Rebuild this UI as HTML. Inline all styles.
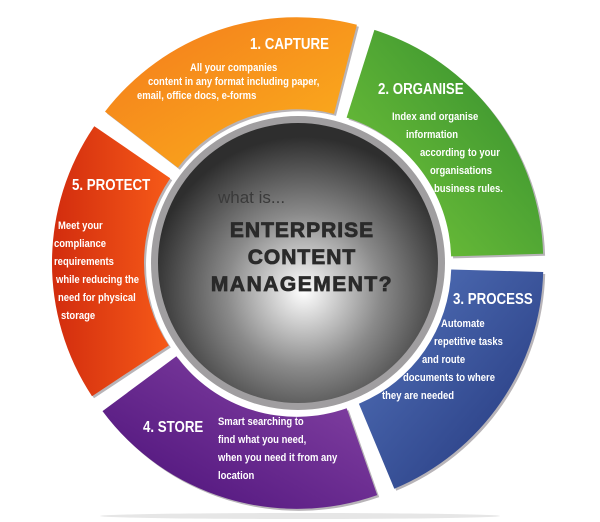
<!DOCTYPE html>
<html><head><meta charset="utf-8"><style>
html,body{margin:0;padding:0;background:#fff;}
#w{position:relative;width:600px;height:522px;overflow:hidden;font-family:"Liberation Sans",sans-serif;}
.t{position:absolute;color:#fff;font-weight:bold;white-space:nowrap;font-size:11px;line-height:18px;transform:scaleX(0.86);transform-origin:0 0;}
.h{position:absolute;color:#fff;font-weight:bold;white-space:nowrap;font-size:16px;transform:scaleX(0.83);transform-origin:0 0;}
.c{position:absolute;color:#2a2a2a;font-family:"Liberation Sans",sans-serif;font-weight:900;font-size:21px;letter-spacing:1px;text-align:center;width:300px;left:152px;-webkit-text-stroke:0.8px #2a2a2a;}
</style></head><body><div id="w">
<svg width="600" height="522" style="position:absolute;left:0;top:0">
<defs>
<linearGradient id="g1" x1="0" y1="0" x2="1" y2="1"><stop offset="0" stop-color="#f47a1c"/><stop offset="1" stop-color="#fbb21c"/></linearGradient>
<linearGradient id="g2" x1="1" y1="0" x2="0" y2="1"><stop offset="0" stop-color="#2f8a2e"/><stop offset="1" stop-color="#78c83a"/></linearGradient>
<linearGradient id="g3" x1="0" y1="0" x2="1" y2="1"><stop offset="0" stop-color="#5575bd"/><stop offset="1" stop-color="#22357a"/></linearGradient>
<linearGradient id="g4" x1="1" y1="0" x2="0" y2="1"><stop offset="0" stop-color="#8a48a8"/><stop offset="1" stop-color="#4a0f78"/></linearGradient>
<linearGradient id="g5" x1="1" y1="0" x2="0" y2="0"><stop offset="0" stop-color="#f65a18"/><stop offset="1" stop-color="#d22c0e"/></linearGradient>
<radialGradient id="gc" cx="0.52" cy="0.6" r="0.55"><stop offset="0" stop-color="#ffffff"/><stop offset="0.5" stop-color="#8a8a8a"/><stop offset="1" stop-color="#2e2e2e"/></radialGradient>
</defs>
<ellipse cx="300" cy="516" rx="200" ry="3" fill="#e6e6e6"/>
<g id="segs"></g>
<circle cx="298" cy="263" r="147" fill="#a09ea0"/>
<circle cx="298" cy="263" r="140" fill="url(#gc)"/>
</svg>
<div class="h" style="left:250px;top:36px">1. CAPTURE</div>
<div class="t" style="left:190px;top:59px">All your companies</div>
<div class="t" style="left:148px;top:73px">content in any format including paper,</div>
<div class="t" style="left:137px;top:87px">email, office docs, e-forms</div>
<div class="h" style="left:378px;top:81px">2. ORGANISE</div>
<div class="t" style="left:392px;top:108px">Index and organise</div>
<div class="t" style="left:406px;top:126px">information</div>
<div class="t" style="left:420px;top:144px">according to your</div>
<div class="t" style="left:430px;top:162px">organisations</div>
<div class="t" style="left:434px;top:180px">business rules.</div>
<div class="h" style="left:72px;top:177px">5. PROTECT</div>
<div class="t" style="left:58px;top:217px">Meet your</div>
<div class="t" style="left:54px;top:235px">compliance</div>
<div class="t" style="left:54px;top:253px">requirements</div>
<div class="t" style="left:56px;top:271px">while reducing the</div>
<div class="t" style="left:58px;top:289px">need for physical</div>
<div class="t" style="left:61px;top:307px">storage</div>
<div class="h" style="left:453px;top:291px">3. PROCESS</div>
<div class="t" style="left:441px;top:315px">Automate</div>
<div class="t" style="left:434px;top:333px">repetitive tasks</div>
<div class="t" style="left:422px;top:351px">and route</div>
<div class="t" style="left:403px;top:369px">documents to where</div>
<div class="t" style="left:382px;top:387px">they are needed</div>
<div class="h" style="left:143px;top:419px">4. STORE</div>
<div class="t" style="left:218px;top:413px">Smart searching to</div>
<div class="t" style="left:218px;top:431px">find what you need,</div>
<div class="t" style="left:218px;top:449px">when you need it from any</div>
<div class="t" style="left:218px;top:467px">location</div>
<div style="position:absolute;left:218px;top:188px;color:#3a3a3a;font-family:'Liberation Sans',sans-serif;font-size:17px">what is...</div>
<div class="c" style="top:219px">ENTERPRISE</div>
<div class="c" style="top:246px">CONTENT</div>
<div class="c" style="top:273px;letter-spacing:1.5px">MANAGEMENT?</div>
</div>
<script>
var cx=298,cy=263,R=242,r=150;
var segs=[[-144,-74,'g1'],[-74,0,'g2'],[0,69,'g3'],[69,145,'g4'],[145,216,'g5']];
var h='';
function p(a,rad,ox,oy){a=a*Math.PI/180;return (cx+ox+rad*Math.cos(a)).toFixed(1)+','+(cy+oy+rad*Math.sin(a)).toFixed(1);}
segs.forEach(function(s){
 var a0=s[0]+1.6,a1=s[1]-1.6,m=(s[0]+s[1])/2*Math.PI/180,ox=4*Math.cos(m),oy=4*Math.sin(m);
 var d='M'+p(a0,r,ox,oy)+' L'+p(a0,R,ox,oy)+' A'+R+','+R+' 0 0 1 '+p(a1,R,ox,oy)+' L'+p(a1,r,ox,oy)+' A'+r+','+r+' 0 0 0 '+p(a0,r,ox,oy)+' Z';
 h+='<path d="'+d+'" fill="#b8b4b8" transform="translate(2,2)"/>';
 h+='<path d="'+d+'" fill="url(#'+s[2]+')"/>';
});
document.getElementById('segs').innerHTML=h;
</script>
</body></html>
